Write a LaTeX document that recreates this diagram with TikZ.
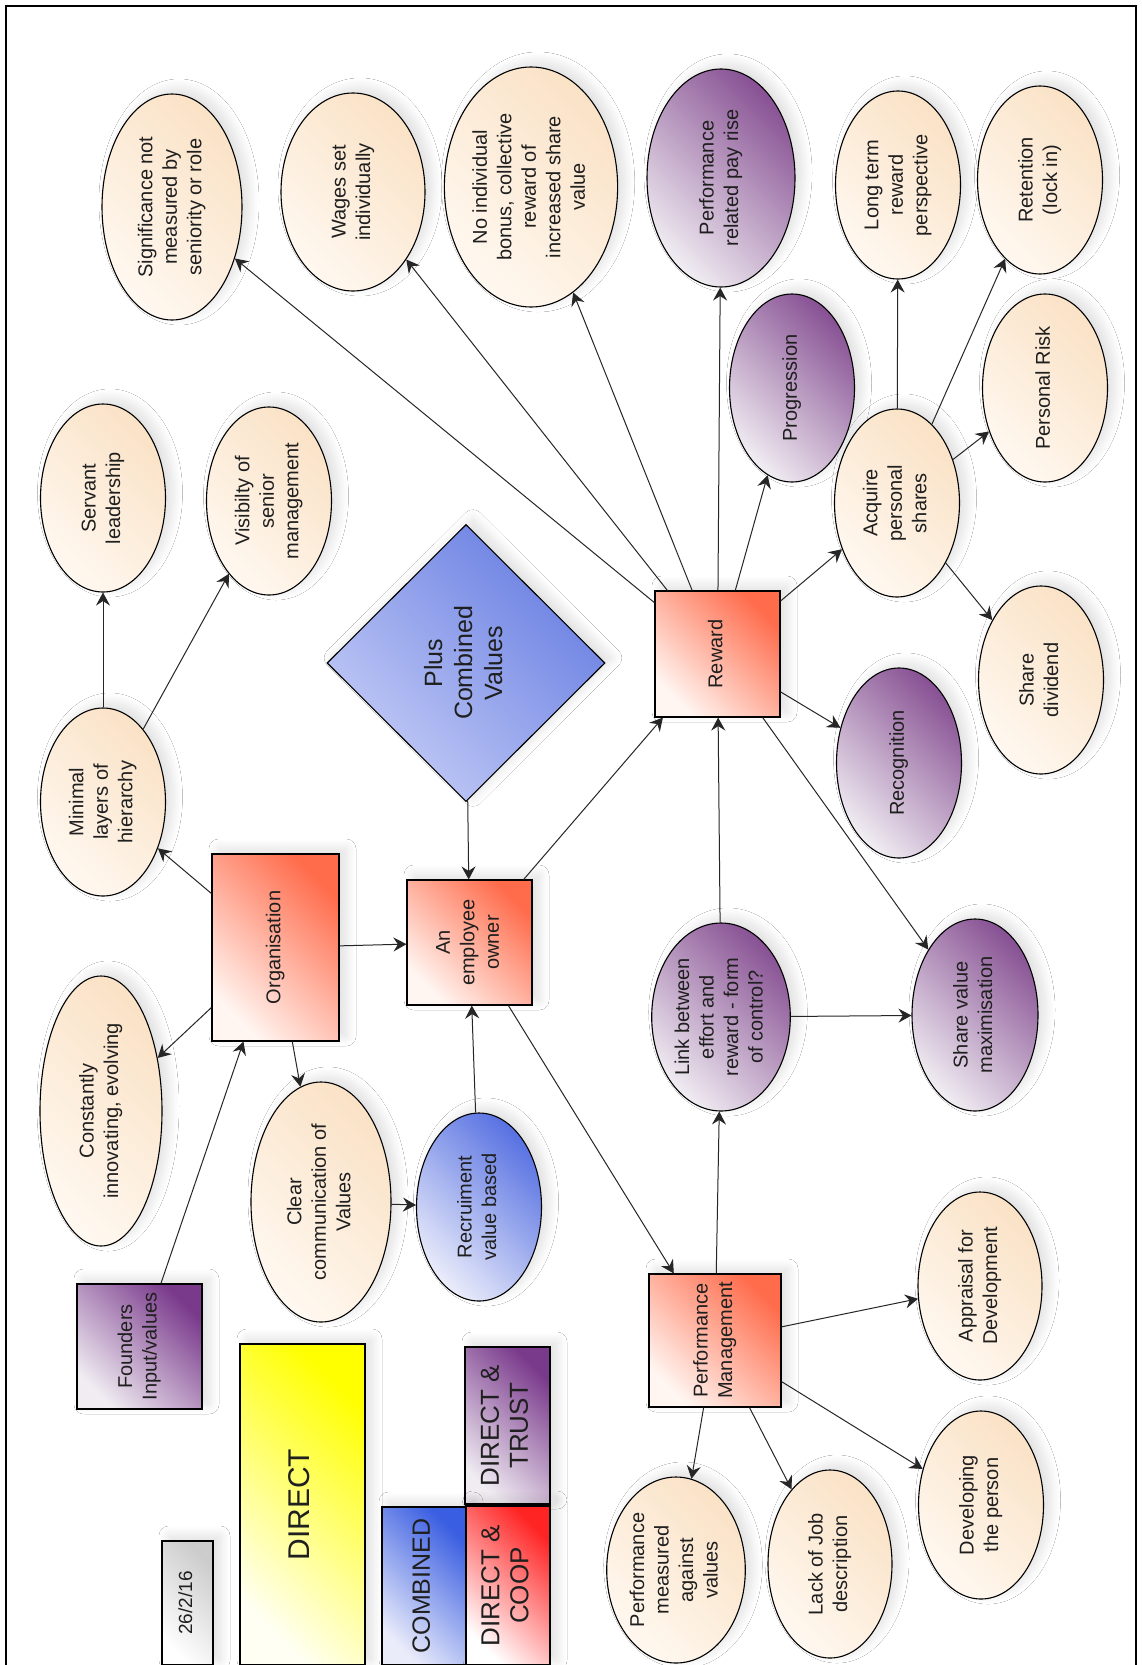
\documentclass[tikz,border=0pt]{standalone}
\usepackage{graphicx}
\usepackage{fontspec}
\setmainfont{Liberation Sans}
\usetikzlibrary{shapes.geometric,arrows.meta,shadows.blur}

% vertical (rotated) multi-line label
\newcommand{\vtxt}[1]{\rotatebox{90}{\begin{tabular}{@{}c@{}}#1\end{tabular}}}

\definecolor{tanD}{RGB}{250,226,198}
\definecolor{tanL}{RGB}{255,248,240}
\definecolor{purD}{RGB}{136,82,148}
\definecolor{purL}{RGB}{240,236,242}
\definecolor{salD}{RGB}{255,108,76}
\definecolor{salL}{RGB}{255,246,242}
\definecolor{bluD}{RGB}{88,114,226}
\definecolor{bluL}{RGB}{234,236,250}
\definecolor{diaD}{RGB}{104,126,226}
\definecolor{diaL}{RGB}{196,204,246}
\definecolor{yelD}{RGB}{255,255,0}
\definecolor{yelL}{RGB}{255,255,244}
\definecolor{cmbD}{RGB}{58,94,226}
\definecolor{redD}{RGB}{255,36,36}
\definecolor{trD}{RGB}{122,58,140}

\tikzset{
  base/.style={draw=black, line width=1.1pt, inner sep=0pt, text=black!88,
    font=\fontsize{20}{24.5}\selectfont,
    blur shadow={shadow xshift=7pt, shadow yshift=5pt, shadow blur radius=10pt,
                 shadow blur steps=30, shadow opacity=13}},
  grad/.style 2 args={top color=#1, bottom color=#2, shading angle=-45},
  oval/.style={base, ellipse, minimum width=125pt, minimum height=188pt},
  tanoval/.style={oval, grad={tanD}{tanL}},
  puroval/.style={oval, grad={purD}{purL}},
  bluoval/.style={oval, grad={bluD}{bluL}},
  box/.style={base, rectangle},
  salbox/.style={box, grad={salD}{salL}},
  conn/.style={draw=black!85, line width=1pt, -{Stealth[length=13pt,width=14pt,inset=4.5pt]}},
}

\begin{document}
\begin{tikzpicture}[x=1pt,y=-1pt]
\useasboundingbox (0,0) rectangle (1141,1665);
\fill[white] (0,0) rectangle (1141,1665);
\draw[line width=1.1pt] (6,6) rectangle (1136,1672);

% --- top row of outcomes
\node[tanoval, minimum width=140pt, minimum height=226pt] (sig) at (172,207) {\vtxt{Significance not\\measured by\\seniority or role}};
\node[tanoval, minimum width=144pt, minimum height=198pt] (wages) at (353,192) {\vtxt{Wages set\\individually}};
\node[tanoval, minimum width=168pt, minimum height=240pt] (nobonus) at (531,187) {\vtxt{No individual\\bonus, collective\\reward of\\increased share\\value}};
\node[puroval, minimum width=148pt, minimum height=218pt] (payrise) at (721,178) {\vtxt{Performance\\related pay rise}};
\node[tanoval] (longterm) at (898,185) {\vtxt{Long term\\reward\\perspective}};
\node[tanoval] (retention) at (1040,180) {\vtxt{Retention\\(lock in)}};

% --- second row
\node[tanoval] (servant) at (103,498) {\vtxt{Servant\\leadership}};
\node[tanoval] (visibility) at (269,501) {\vtxt{Visibilty of\\senior\\management}};
\node[puroval] (progression) at (792,388) {\vtxt{Progression}};
\node[tanoval] (acquire) at (897,503) {\vtxt{Acquire\\personal\\shares}};
\node[tanoval] (risk) at (1045,388) {\vtxt{Personal Risk}};

% --- diamond
\node[base, diamond, minimum width=278pt, minimum height=277pt, grad={diaD}{diaL},
      font=\fontsize{25}{30}\selectfont] (plus) at (466,663) {\vtxt{Plus\\Combined\\Values}};

% --- middle band
\node[tanoval] (minimal) at (103,802) {\vtxt{Minimal\\layers of\\hierarchy}};
\node[salbox, minimum width=125pt, minimum height=126pt] (reward) at (717.5,654) {\vtxt{Reward}};
\node[tanoval] (dividend) at (1041,680) {\vtxt{Share\\dividend}};
\node[puroval, minimum height=190pt] (recog) at (899,763) {\vtxt{Recognition}};

\node[salbox, minimum width=127pt, minimum height=187pt] (org) at (275.5,947.5) {\vtxt{Organisation}};
\node[salbox, minimum width=125pt, minimum height=125pt] (owner) at (469.5,942.5) {\vtxt{An\\employee\\owner}};
\node[tanoval, minimum width=122pt, minimum height=270pt] (constant) at (101,1111) {\vtxt{Constantly\\innovating, evolving}};
\node[puroval] (linkage) at (721,1017) {\vtxt{Link between\\effort and\\reward - form\\of control?}};
\node[puroval, minimum width=126pt, minimum height=192pt] (sharemax) at (975,1015) {\vtxt{Share value\\maximisation}};

\node[tanoval, minimum width=140pt, minimum height=240pt] (clear) at (321,1202) {\vtxt{Clear\\communication of\\Values}};
\node[bluoval] (recruit) at (479,1207) {\vtxt{Recruiment\\value based}};
\node[tanoval, minimum width=124pt] (appraisal) at (980,1286) {\vtxt{Appraisal for\\Development}};
\node[salbox, minimum width=132pt, minimum height=133pt] (perf) at (715,1340.5) {\vtxt{Performance\\Management}};
\node[box, minimum width=125pt, minimum height=125pt, grad={trD}{purL}] (founders) at (139.5,1346.5) {\vtxt{Founders\\Input/values}};

% --- bottom row
\node[tanoval] (develop) at (981,1505) {\vtxt{Developing\\the person}};
\node[tanoval, minimum width=122pt, minimum height=186pt] (measured) at (676,1570) {\vtxt{Performance\\measured\\against\\values}};
\node[tanoval, minimum width=124pt] (jobdesc) at (830,1564) {\vtxt{Lack of Job\\description}};

% --- key boxes
\node[box, minimum width=51pt, minimum height=124pt, grad={black!20}{white},
      font=\fontsize{19}{23}\selectfont] (date) at (187.5,1603) {\vtxt{26/2/16}};
\node[box, minimum width=125pt, minimum height=321pt, grad={yelD}{yelL},
      font=\fontsize{30}{36}\selectfont] (kdirect) at (302.5,1504.5) {\vtxt{DIRECT}};
\node[box, minimum width=85pt, minimum height=157pt, grad={trD}{purL},
      font=\fontsize{26}{29}\selectfont] (ktrust) at (507.5,1425.5) {\vtxt{DIRECT \&\\TRUST}};
\node[box, minimum width=84pt, minimum height=158pt, grad={cmbD}{bluL},
      font=\fontsize{25}{29}\selectfont] (kcombined) at (424,1586) {\vtxt{COMBINED}};
\node[box, minimum width=84pt, minimum height=159pt, grad={redD}{white},
      font=\fontsize{26}{29}\selectfont] (kcoop) at (508,1585.5) {\vtxt{DIRECT \&\\COOP}};

% --- connectors
\draw[conn] (founders) -- (org);
\draw[conn] (org) -- (minimal);
\draw[conn] (org) -- (constant);
\draw[conn] (org) -- (owner);
\draw[conn] (org) -- (clear);
\draw[conn] (clear) -- (recruit);
\draw[conn] (recruit) -- (owner);
\draw[conn] (minimal) -- (servant);
\draw[conn] (minimal) -- (visibility);
\draw[conn] (plus) -- (owner);
\draw[conn] (owner) -- (reward);
\draw[conn] (owner) -- (perf);

\draw[conn] (reward) -- (sig);
\draw[conn] (reward) -- (wages);
\draw[conn] (reward) -- (nobonus);
\draw[conn] (reward) -- (payrise);
\draw[conn] (reward) -- (progression);
\draw[conn] (reward) -- (acquire);
\draw[conn] (reward) -- (recog);
\draw[conn] (reward) -- (sharemax);

\draw[conn] (acquire) -- (longterm);
\draw[conn] (acquire) -- (retention);
\draw[conn] (acquire) -- (risk);
\draw[conn] (acquire) -- (dividend);

\draw[conn] (linkage) -- (reward);
\draw[conn] (linkage) -- (sharemax);

\draw[conn] (perf) -- (linkage);
\draw[conn] (perf) -- (appraisal);
\draw[conn] (perf) -- (develop);
\draw[conn] (perf) -- (measured);
\draw[conn] (perf) -- (jobdesc);
\end{tikzpicture}
\end{document}
